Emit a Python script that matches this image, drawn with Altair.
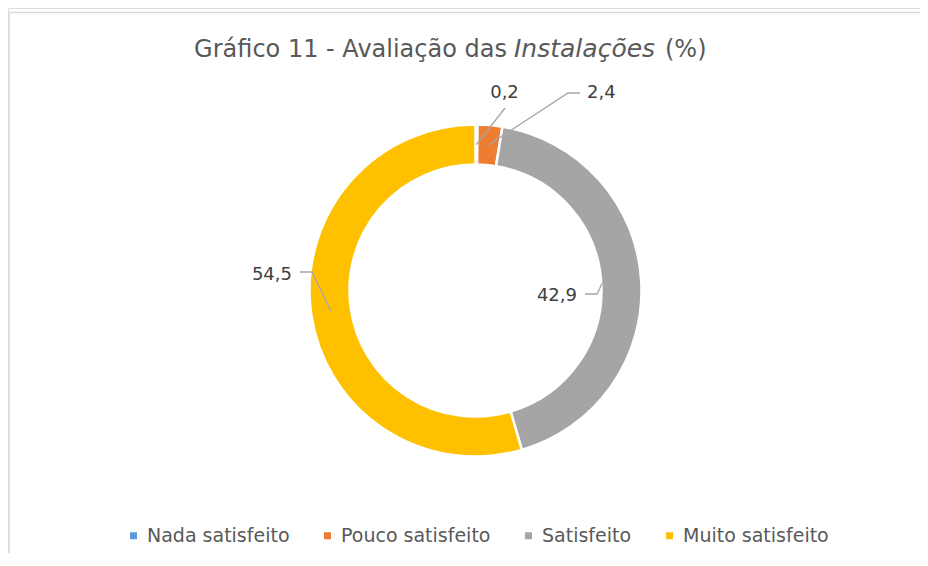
import altair as alt
import numpy as np
import pandas as pd

# ---------------- data ----------------
categories = ["Nada satisfeito", "Pouco satisfeito", "Satisfeito", "Muito satisfeito"]
values = [0.2, 2.4, 42.9, 54.5]
value_labels = ["0,2", "2,4", "42,9", "54,5"]
colors = ["#5B9BD5", "#ED7D31", "#A5A5A5", "#FFC000"]
title_parts = ["Gráfico 11 - Avaliação das", "Instalações", "(%)"]

# ---------------- layout (pixels; offsets relative to donut centre, y downwards) ----------------
W, H = 912, 545
CX, CY = 467.5, 282.5
R_OUT, R_IN = 166, 126
anchor_r = [146, 146, 127, 146]
elbow_xy = [(29.5, -182.5), (92.5, -197.5), (121.5, 3.5), (-163.5, -18.5)]
end_xy = [(29.5, -182.5), (104.5, -197.5), (109.5, 3.5), (-175.5, -18.5)]
text_xy = [(29.0, -192.5), (111.5, -192.5), (101.5, 10.5), (-183.5, -10.5)]
text_align = ["center", "left", "right", "right"]

xs = alt.Scale(domain=[-CX, W - CX], nice=False, zero=False)
ys = alt.Scale(domain=[-CY, H - CY], nice=False, zero=False, reverse=True)

# ---------------- donut ----------------
donut_df = pd.DataFrame({"cat": categories, "value": values, "idx": list(range(len(values)))})

arc = alt.Chart(donut_df).mark_arc(
    outerRadius=R_OUT, innerRadius=R_IN, stroke="white", strokeWidth=2.5
).encode(
    theta=alt.Theta("value:Q", stack=True),
    order=alt.Order("idx:Q"),
    color=alt.Color(
        "cat:N",
        sort=categories,
        scale=alt.Scale(domain=categories, range=colors),
        legend=alt.Legend(
            title=None,
            orient="none",
            legendX=116,
            legendY=518,
            direction="horizontal",
            symbolType="square",
            symbolSize=49,
            symbolStrokeWidth=0,
            labelFont="DejaVu Sans",
            labelFontSize=19,
            labelColor="#595959",
            labelOffset=4,
            columnPadding=28,
        ),
    ),
    x=alt.value(CX),
    y=alt.value(CY),
)

# ---------------- leader lines ----------------
vals = np.array(values)
cum = np.cumsum(vals)
mid = (cum - vals / 2) / vals.sum() * 2 * np.pi
rows = []
for i, c in enumerate(categories):
    ax = anchor_r[i] * np.sin(mid[i])
    ay = -anchor_r[i] * np.cos(mid[i])
    pts = [(ax, ay), elbow_xy[i], end_xy[i]]
    for k, (px, py) in enumerate(pts):
        rows.append({"cat": c, "pt": k, "px": px, "py": py})
lines_df = pd.DataFrame(rows)

lines = alt.Chart(lines_df).mark_line(color="#A6A6A6", strokeWidth=1.3).encode(
    x=alt.X("px:Q", scale=xs, axis=None),
    y=alt.Y("py:Q", scale=ys, axis=None),
    detail="cat:N",
    order="pt:Q",
)

# ---------------- value labels ----------------
lab_df = pd.DataFrame({
    "label": value_labels,
    "tx": [p[0] for p in text_xy],
    "ty": [p[1] for p in text_xy],
    "align": text_align,
})

label_layers = []
for al in ["center", "left", "right"]:
    label_layers.append(
        alt.Chart(lab_df).transform_filter(alt.datum.align == al).mark_text(
            font="DejaVu Sans", fontSize=18, color="#404040", align=al, baseline="alphabetic"
        ).encode(
            x=alt.X("tx:Q", scale=xs, axis=None),
            y=alt.Y("ty:Q", scale=ys, axis=None),
            text="label:N",
        )
    )

# ---------------- title (mixed roman / italic) ----------------
t_df = pd.DataFrame({"t": title_parts, "k": [0, 1, 2]})
title_y = 49
t1 = alt.Chart(t_df).transform_filter(alt.datum.k == 0).mark_text(
    font="DejaVu Sans", fontSize=24, color="#595959", align="right", baseline="alphabetic"
).encode(x=alt.value(499), y=alt.value(title_y), text="t:N")
t2 = alt.Chart(t_df).transform_filter(alt.datum.k == 1).mark_text(
    font="DejaVu Sans", fontSize=25, color="#595959", align="left", baseline="alphabetic",
    fontStyle="italic"
).encode(x=alt.value(506), y=alt.value(title_y), text="t:N")
t3 = alt.Chart(t_df).transform_filter(alt.datum.k == 2).mark_text(
    font="DejaVu Sans", fontSize=24, color="#595959", align="left", baseline="alphabetic"
).encode(x=alt.value(657), y=alt.value(title_y), text="t:N")

# ---------------- frame (top & left edges of the chart box) ----------------
frame_df = pd.DataFrame({"f": [0]})
top_rule = alt.Chart(frame_df).mark_rule(color="#D9D9D9", strokeWidth=1.5).encode(
    x=alt.value(0), x2=alt.value(W), y=alt.value(4.5)
)
left_rule = alt.Chart(frame_df).mark_rule(color="#D9D9D9", strokeWidth=1.5).encode(
    x=alt.value(1), y=alt.value(4), y2=alt.value(H)
)

chart = alt.layer(
    top_rule, left_rule, arc, lines, *label_layers, t1, t2, t3
).properties(
    width=W, height=H, autosize=alt.AutoSizeParams(type="none"), padding=0
).configure_view(stroke="transparent").configure(background="white")

chart.save("out.html", embed_options={"renderer": "svg", "actions": False})
